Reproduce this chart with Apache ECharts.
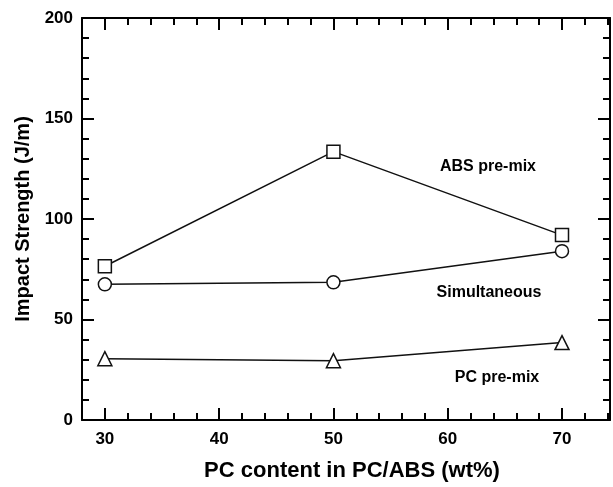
<!DOCTYPE html>
<html>
<head>
<meta charset="utf-8">
<script src="https://cdn.jsdelivr.net/npm/echarts@6/dist/echarts.min.js"></script>
<style>html,body{margin:0;padding:0;background:#fff}#c{width:613px;height:487px}</style>
</head>
<body>
<div id="c"></div>
<script>
const pcContent = [30, 50, 70];
const absPremix = [76.5, 133.5, 92];
const simultaneous = [67.5, 68.5, 84];
const pcPremix = [30.5, 29.5, 38.5];
const xMajorTicks = [30, 40, 50, 60, 70];
const seriesLabels = ['ABS pre-mix', 'Simultaneous', 'PC pre-mix'];
const xTitle = 'PC content in PC/ABS (wt%)';
const yTitle = 'Impact Strength (J/m)';

const FONT = '"Liberation Sans", Arial, sans-serif';
const chart = echarts.init(document.getElementById('c'));
const pts = ys => pcContent.map((x, i) => [x, ys[i]]);
const lineStyle = {color: '#000', width: 2};
const xCommon = {type: 'value', min: 28, max: 74.2, splitLine: {show: false}};
function lineSeries(ys, symbol, size) {
  return {
    type: 'line', data: pts(ys), symbol: symbol, symbolSize: size,
    lineStyle: {color: '#111', width: 1.5},
    itemStyle: {color: '#fff', borderColor: '#111', borderWidth: 1.5},
    z: 3
  };
}
chart.setOption({
  animation: false,
  grid: {left: 82, top: 18, right: 0, bottom: 64},
  xAxis: [
    Object.assign({}, xCommon, {
      position: 'bottom', interval: 2,
      axisLine: {show: true, lineStyle: lineStyle},
      axisTick: {show: true, inside: true, length: 7, lineStyle: lineStyle},
      axisLabel: {show: true, margin: 11, color: '#000', fontFamily: FONT, fontWeight: 'bold', fontSize: 17,
        formatter: v => (v % 10 === 0 && v >= 30 && v <= 70) ? String(v) : ''},
      name: xTitle, nameLocation: 'middle', nameGap: 40,
      nameTextStyle: {color: '#000', fontFamily: FONT, fontWeight: 'bold', fontSize: 22, padding: [0, 0, 0, 12]}
    }),
    Object.assign({}, xCommon, {
      position: 'bottom',
      axisLine: {show: false},
      axisTick: {show: true, inside: true, length: 12, customValues: xMajorTicks, lineStyle: lineStyle},
      axisLabel: {show: false}
    }),
    Object.assign({}, xCommon, {
      position: 'top', interval: 2,
      axisLine: {show: true, lineStyle: lineStyle},
      axisTick: {show: true, inside: true, length: 7, lineStyle: lineStyle},
      axisLabel: {show: false}
    }),
    Object.assign({}, xCommon, {
      position: 'top',
      axisLine: {show: false},
      axisTick: {show: true, inside: true, length: 12, customValues: xMajorTicks, lineStyle: lineStyle},
      axisLabel: {show: false}
    })
  ],
  yAxis: [
    {
      type: 'value', min: 0, max: 200, interval: 50, position: 'left',
      splitLine: {show: false},
      axisLine: {show: true, lineStyle: lineStyle},
      axisTick: {show: true, inside: true, length: 12, lineStyle: lineStyle},
      minorTick: {show: true, splitNumber: 5, length: 7, lineStyle: {color: '#000', width: 2}},
      axisLabel: {margin: 9, color: '#000', fontFamily: FONT, fontWeight: 'bold', fontSize: 17},
      name: yTitle, nameLocation: 'middle', nameGap: 49,
      nameTextStyle: {color: '#000', fontFamily: FONT, fontWeight: 'bold', fontSize: 20}
    },
    {
      type: 'value', min: 0, max: 200, interval: 50, position: 'right',
      splitLine: {show: false},
      axisLine: {show: true, lineStyle: lineStyle},
      axisTick: {show: true, inside: true, length: 12, lineStyle: lineStyle},
      minorTick: {show: true, splitNumber: 5, length: 7, lineStyle: {color: '#000', width: 2}},
      axisLabel: {show: false}
    }
  ],
  series: [
    lineSeries(absPremix, 'rect', 13),
    lineSeries(simultaneous, 'circle', 13),
    lineSeries(pcPremix, 'triangle', 14)
  ],
  graphic: [
    {type: 'text', x: 488, y: 167, style: {text: seriesLabels[0], fill: '#000', font: 'bold 16px ' + FONT, align: 'center', verticalAlign: 'middle'}},
    {type: 'text', x: 489, y: 293, style: {text: seriesLabels[1], fill: '#000', font: 'bold 16px ' + FONT, align: 'center', verticalAlign: 'middle'}},
    {type: 'text', x: 497, y: 378, style: {text: seriesLabels[2], fill: '#000', font: 'bold 16px ' + FONT, align: 'center', verticalAlign: 'middle'}}
  ]
});
</script>
</body>
</html>
